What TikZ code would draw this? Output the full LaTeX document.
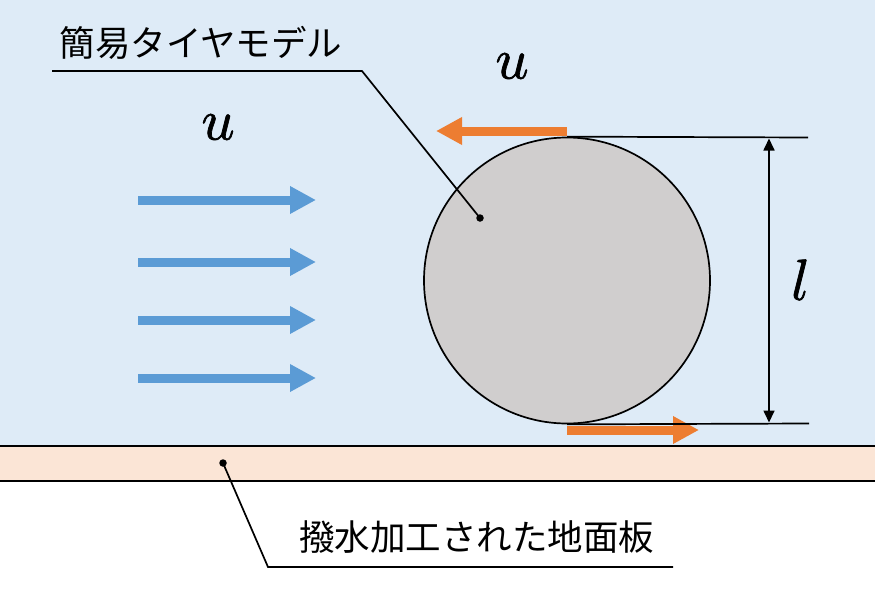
\documentclass[tikz,border=0pt]{standalone}
\usepackage{fontspec}
\usepackage{unicode-math}
\setmathfont{Latin Modern Math}[FakeBold=1.2]
\newfontfamily\cjk{Noto Sans CJK JP}
\usetikzlibrary{arrows.meta}
\definecolor{bgblue}{HTML}{DEEBF7}
\definecolor{peach}{HTML}{FBE5D6}
\definecolor{flowblue}{HTML}{5B9BD5}
\definecolor{orng}{HTML}{ED7D31}
\definecolor{tiregray}{HTML}{D0CECE}
\tikzset{
  flowarrow/.style={draw=flowblue, line width=9pt, -{Triangle[length=26pt,width=26pt]}},
  wallarrow/.style={draw=orng, line width=9pt, -{Triangle[length=26pt,width=26pt]}},
  dimline/.style={line width=1.7pt},
  dimarrow/.style={line width=1.7pt, {Triangle[length=12pt,width=11pt]}-{Triangle[length=12pt,width=11pt]}},
  leader/.style={line width=1.7pt},
  jplabel/.style={font=\cjk\fontsize{35.5}{36}\selectfont, inner sep=0pt},
  sym/.style={font=\fontsize{58}{58}\selectfont, inner sep=0pt},
  pin/.style={circle, fill=black, inner sep=0pt, minimum size=7.5pt}
}
\begin{document}
\begin{tikzpicture}[x=1pt, y=-1pt]
\useasboundingbox (0,0) rectangle (875,589);
% background
\fill[bgblue] (0,0) rectangle (875,446);
\fill[white] (0,481) rectangle (875,589);
\fill[peach] (0,446) rectangle (875,481);
\draw[line width=2pt] (0,446) -- (875,446);
\draw[line width=2pt] (0,481) -- (875,481);
% tire
\node[circle, draw=black, line width=1.7pt, fill=tiregray, minimum size=286pt, inner sep=0pt] (tire) at (567,280.5) {};
% flow arrows
\coordinate (f1s) at (138,200); \coordinate (f1e) at (316,200);
\coordinate (f2s) at (138,262); \coordinate (f2e) at (316,262);
\coordinate (f3s) at (138,320); \coordinate (f3e) at (316,320);
\coordinate (f4s) at (138,378); \coordinate (f4e) at (316,378);
\draw[flowarrow] (f1s) -- (f1e);
\draw[flowarrow] (f2s) -- (f2e);
\draw[flowarrow] (f3s) -- (f3e);
\draw[flowarrow] (f4s) -- (f4e);
\node[sym] (uleft) at (218,127) {$u$};
% wall arrows
\coordinate (w1s) at (567,131); \coordinate (w1e) at (436,131);
\coordinate (w2s) at (567,430); \coordinate (w2e) at (699,430);
\draw[wallarrow] (w1s) -- (w1e);
\draw[wallarrow] (w2s) -- (w2e);
\node[sym] (utop) at (512,66) {$u$};
% dimension
\coordinate (dt) at (808,137.5);
\coordinate (db) at (809,423.5);
\draw[dimline] (tire.north) -- (dt);
\draw[dimline] (tire.south) -- (db);
\coordinate (da) at (769,138.5);
\coordinate (dbb) at (769,422.5);
\draw[dimarrow] (da) -- (dbb);
\node[sym] (lsym) at (800,280) {$l$};
% tire label
\node[jplabel] (tlabel) at (201,43) {簡易タイヤモデル};
\coordinate (t1) at (52,71);
\coordinate (t2) at (362,71);
\node[pin] (tdot) at (480,218) {};
\draw[leader] (t1) -- (t2) -- (tdot.center);
% ground label
\node[jplabel] (glabel) at (476.5,537) {撥水加工された地面板};
\node[pin] (gdot) at (223,463) {};
\coordinate (g1) at (268,567);
\coordinate (g2) at (673,567);
\draw[leader] (gdot.center) -- (g1) -- (g2);
\end{tikzpicture}
\end{document}
